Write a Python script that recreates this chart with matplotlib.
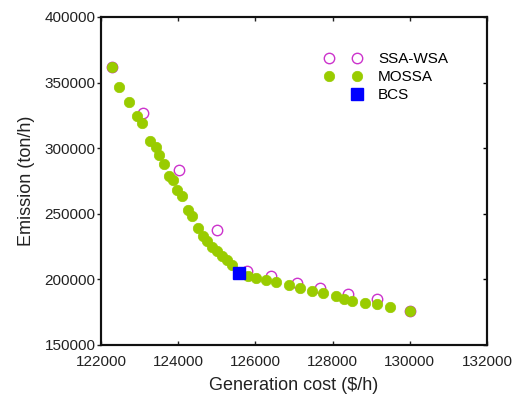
import numpy as np
import matplotlib
matplotlib.use("Agg")
import matplotlib.pyplot as plt
from matplotlib.legend_handler import HandlerLine2D

plt.rcParams["font.family"] = ["Liberation Sans", "DejaVu Sans"]

# Pareto fronts: generation cost ($/h) vs emission (ton/h)
ssa_cost = [122276, 123079, 124028, 125011, 125770, 126392, 127091,
            127669, 128402, 129153, 129998]
ssa_emis = [362000, 326500, 283500, 237900, 206200, 202400, 197400,
            193300, 188500, 184700, 175800]

mossa_cost = [122276, 122466, 122733, 122923, 123061, 123268, 123424,
              123510, 123631, 123769, 123872, 123976, 124105, 124261,
              124364, 124519, 124632, 124735, 124864, 124994, 125123,
              125253, 125382, 125814, 126012, 126271, 126530, 126875,
              127168, 127479, 127755, 128083, 128290, 128514, 128833,
              129153, 129480, 129998]
mossa_emis = [362000, 346300, 335400, 324800, 318900, 305800, 300700,
              294900, 288000, 278900, 275400, 268300, 263200, 253100,
              248000, 239200, 233300, 229000, 224700, 221400, 217600,
              215100, 211300, 202400, 201200, 199400, 197900, 196100,
              193600, 191000, 189800, 187700, 185200, 183400, 182200,
              180900, 179100, 175800]

bcs_cost = [125580]
bcs_emis = [205000]

x_ticks = [122000, 124000, 126000, 128000, 130000, 132000]
y_ticks = [150000, 200000, 250000, 300000, 350000, 400000]


class HandlerLastMarker(HandlerLine2D):
    # legend entry that keeps only the right-hand marker
    def create_artists(self, *args, **kwargs):
        artists = super().create_artists(*args, **kwargs)
        for a in artists:
            a.set_markevery([1])
        return artists


fig = plt.figure(figsize=(5.19, 3.95), dpi=100)
ax = fig.add_axes([0.1946, 0.1266, 0.7437, 0.8304])

green = "#99cc00"
ax.plot(ssa_cost, ssa_emis, "o", ls="none", ms=7.5, mfc="none",
        mec="#cc33cc", mew=1.0, label="SSA-WSA", zorder=2)
ax.plot(mossa_cost, mossa_emis, "o", ls="none", ms=7.5, mfc=green,
        mec=green, mew=0.5, label="MOSSA", zorder=3)
bcs, = ax.plot(bcs_cost, bcs_emis, "s", ls="none", ms=8.5, mfc="#0000ff",
               mec="#0000ff", label="BCS", zorder=4)

ax.set_xlim(122000, 132000)
ax.set_ylim(150000, 400000)
ax.set_xticks(x_ticks)
ax.set_yticks(y_ticks)
ax.set_xticklabels([str(v) for v in x_ticks])
ax.set_yticklabels([str(v) for v in y_ticks])

ax.tick_params(axis="x", direction="in", top=True, length=3, width=1,
               labelsize=11, pad=7, colors="#222222")
ax.tick_params(axis="y", direction="out", length=3, width=1,
               labelsize=11, pad=1, colors="#222222")
ax.yaxis.set_ticks_position("left")
# inward ticks along the right edge
ax2 = ax.twinx()
ax2.set_ylim(ax.get_ylim())
ax2.set_yticks(y_ticks)
ax2.tick_params(axis="y", direction="in", length=3, width=1, labelright=False)

for a in (ax, ax2):
    for s in a.spines.values():
        s.set_linewidth(1.5)
        s.set_color("#111111")

ax.set_xlabel("Generation cost ($/h)", fontsize=13, labelpad=6, color="#222222")
ax.set_ylabel("Emission (ton/h)", fontsize=13, labelpad=7, color="#222222")

ax.legend(numpoints=2, frameon=False, fontsize=11, loc="upper left",
          bbox_to_anchor=(0.579, 0.892), borderaxespad=0, borderpad=0,
          handlelength=2.4, handletextpad=1.1, labelspacing=0.25,
          handler_map={bcs: HandlerLastMarker()})

fig.savefig("out.png", dpi=100)
